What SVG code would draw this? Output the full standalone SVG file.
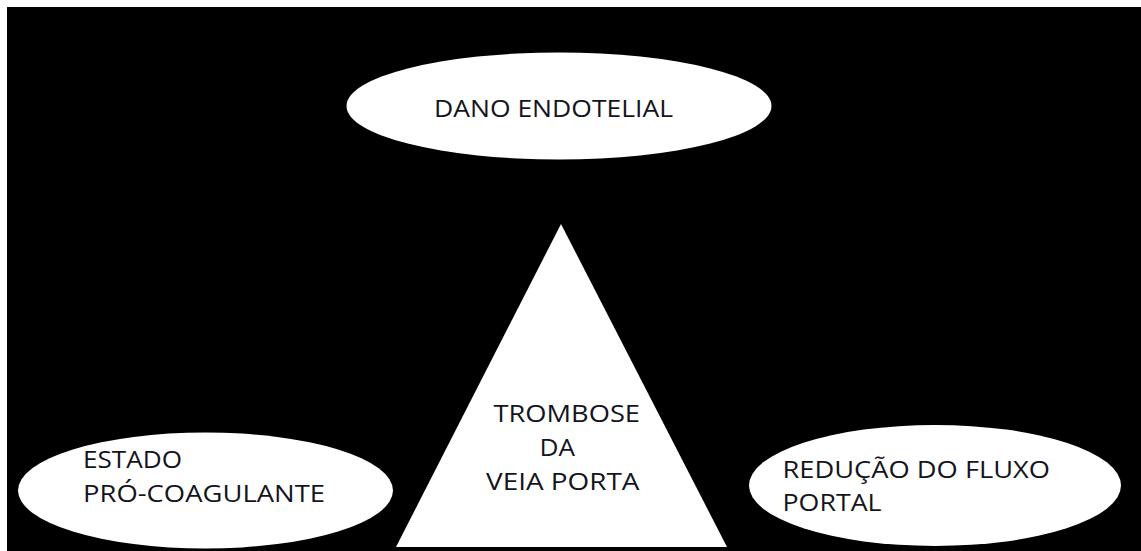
<svg xmlns="http://www.w3.org/2000/svg" width="1141" height="551" viewBox="0 0 1141 551">
  <style>
    .shape { fill: #ffffff; stroke: none; }
    .lbl { font-family: "Open Sans", "Liberation Sans", sans-serif; font-size: 23px; fill: #141420; }
  </style>
  <rect x="0" y="0" width="1141" height="551" fill="#ffffff"/>
  <rect x="7" y="7" width="1134" height="544" fill="#000000"/>
  <g id="connectors"></g>
  <g id="node-dano">
    <ellipse class="shape" cx="559" cy="106" rx="212.5" ry="53.5"/>
    <text class="lbl" x="434" y="116.5" textLength="239" lengthAdjust="spacingAndGlyphs">DANO ENDOTELIAL</text>
  </g>
  <g id="node-trombose">
    <polygon class="shape" points="561,224 396,547 727,547"/>
    <text class="lbl" x="493.5" y="421.5" textLength="146.5" lengthAdjust="spacingAndGlyphs">TROMBOSE</text>
    <text class="lbl" x="539.5" y="456" textLength="35.5" lengthAdjust="spacingAndGlyphs">DA</text>
    <text class="lbl" x="486" y="490" textLength="153.5" lengthAdjust="spacingAndGlyphs">VEIA PORTA</text>
  </g>
  <g id="node-estado">
    <ellipse class="shape" cx="205.5" cy="490.5" rx="187.5" ry="58"/>
    <text class="lbl" x="83" y="468" textLength="99" lengthAdjust="spacingAndGlyphs">ESTADO</text>
    <text class="lbl" x="83" y="501.5" textLength="242" lengthAdjust="spacingAndGlyphs">PRÓ-COAGULANTE</text>
  </g>
  <g id="node-reducao">
    <ellipse class="shape" cx="935" cy="485.5" rx="186" ry="60.5"/>
    <text class="lbl" x="782.5" y="478.3" textLength="267.5" lengthAdjust="spacingAndGlyphs">REDUÇÃO DO FLUXO</text>
    <text class="lbl" x="782.5" y="511" textLength="99" lengthAdjust="spacingAndGlyphs">PORTAL</text>
  </g>
</svg>
